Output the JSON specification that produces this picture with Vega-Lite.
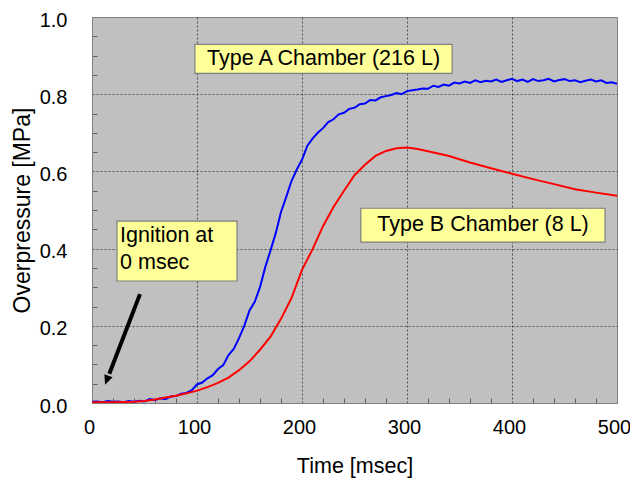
{
  "$schema": "https://vega.github.io/schema/vega-lite/v6.json",
  "width": 525,
  "height": 386,
  "autosize": {"type": "none"},
  "padding": {"left": 92, "top": 17, "right": 13, "bottom": 76},
  "background": "white",
  "config": {
    "view": {"fill": "#C0C0C0", "stroke": "#808080", "strokeWidth": 1},
    "font": "Liberation Sans",
    "axis": {
      "labelFont": "Liberation Sans",
      "labelFontSize": 20,
      "labelColor": "#000000",
      "titleFont": "Liberation Sans",
      "titleFontSize": 21.5,
      "titleFontWeight": "normal",
      "titleColor": "#000000",
      "domainColor": "#808080",
      "tickColor": "#606060",
      "gridColor": "#505050",
      "gridDash": [2, 2],
      "gridWidth": 1
    }
  },
  "datasets": {
    "curves": [
      {"t": 0, "p": 0.003, "s": "A"}, {"t": 5, "p": 0.004, "s": "A"}, {"t": 10, "p": 0.002, "s": "A"}, {"t": 15, "p": 0.005, "s": "A"}, {"t": 20, "p": 0.003, "s": "A"}, {"t": 25, "p": 0.004, "s": "A"}, {"t": 30, "p": 0.002, "s": "A"}, {"t": 35, "p": 0.005, "s": "A"}, {"t": 40, "p": 0.003, "s": "A"}, {"t": 45, "p": 0.006, "s": "A"}, {"t": 50, "p": 0.004, "s": "A"}, {"t": 55, "p": 0.01, "s": "A"}, {"t": 60, "p": 0.008, "s": "A"}, {"t": 65, "p": 0.012, "s": "A"}, {"t": 70, "p": 0.01, "s": "A"}, {"t": 75, "p": 0.017, "s": "A"}, {"t": 80, "p": 0.018, "s": "A"}, {"t": 85, "p": 0.024, "s": "A"}, {"t": 90, "p": 0.026, "s": "A"}, {"t": 95, "p": 0.033, "s": "A"}, {"t": 100, "p": 0.048, "s": "A"}, {"t": 105, "p": 0.053, "s": "A"}, {"t": 110, "p": 0.064, "s": "A"}, {"t": 115, "p": 0.072, "s": "A"}, {"t": 120, "p": 0.088, "s": "A"}, {"t": 125, "p": 0.098, "s": "A"}, {"t": 130, "p": 0.124, "s": "A"}, {"t": 135, "p": 0.14, "s": "A"}, {"t": 140, "p": 0.168, "s": "A"}, {"t": 145, "p": 0.2, "s": "A"}, {"t": 150, "p": 0.24, "s": "A"}, {"t": 155, "p": 0.262, "s": "A"}, {"t": 160, "p": 0.3, "s": "A"}, {"t": 165, "p": 0.352, "s": "A"}, {"t": 170, "p": 0.395, "s": "A"}, {"t": 175, "p": 0.44, "s": "A"}, {"t": 180, "p": 0.495, "s": "A"}, {"t": 185, "p": 0.534, "s": "A"}, {"t": 190, "p": 0.575, "s": "A"}, {"t": 195, "p": 0.605, "s": "A"}, {"t": 200, "p": 0.63, "s": "A"}, {"t": 205, "p": 0.666, "s": "A"}, {"t": 210, "p": 0.685, "s": "A"}, {"t": 215, "p": 0.7, "s": "A"}, {"t": 220, "p": 0.712, "s": "A"}, {"t": 225, "p": 0.728, "s": "A"}, {"t": 230, "p": 0.735, "s": "A"}, {"t": 235, "p": 0.748, "s": "A"}, {"t": 240, "p": 0.752, "s": "A"}, {"t": 245, "p": 0.762, "s": "A"}, {"t": 250, "p": 0.765, "s": "A"}, {"t": 255, "p": 0.774, "s": "A"}, {"t": 260, "p": 0.776, "s": "A"}, {"t": 265, "p": 0.785, "s": "A"}, {"t": 270, "p": 0.784, "s": "A"}, {"t": 275, "p": 0.792, "s": "A"}, {"t": 280, "p": 0.795, "s": "A"}, {"t": 285, "p": 0.798, "s": "A"}, {"t": 290, "p": 0.803, "s": "A"}, {"t": 295, "p": 0.8, "s": "A"}, {"t": 300, "p": 0.808, "s": "A"}, {"t": 305, "p": 0.81, "s": "A"}, {"t": 310, "p": 0.812, "s": "A"}, {"t": 315, "p": 0.815, "s": "A"}, {"t": 320, "p": 0.814, "s": "A"}, {"t": 325, "p": 0.822, "s": "A"}, {"t": 330, "p": 0.819, "s": "A"}, {"t": 335, "p": 0.825, "s": "A"}, {"t": 340, "p": 0.822, "s": "A"}, {"t": 345, "p": 0.83, "s": "A"}, {"t": 350, "p": 0.828, "s": "A"}, {"t": 355, "p": 0.833, "s": "A"}, {"t": 360, "p": 0.829, "s": "A"}, {"t": 365, "p": 0.836, "s": "A"}, {"t": 370, "p": 0.831, "s": "A"}, {"t": 375, "p": 0.835, "s": "A"}, {"t": 380, "p": 0.833, "s": "A"}, {"t": 385, "p": 0.838, "s": "A"}, {"t": 390, "p": 0.832, "s": "A"}, {"t": 395, "p": 0.836, "s": "A"}, {"t": 400, "p": 0.84, "s": "A"}, {"t": 405, "p": 0.834, "s": "A"}, {"t": 410, "p": 0.838, "s": "A"}, {"t": 415, "p": 0.832, "s": "A"}, {"t": 420, "p": 0.839, "s": "A"}, {"t": 425, "p": 0.834, "s": "A"}, {"t": 430, "p": 0.836, "s": "A"}, {"t": 435, "p": 0.84, "s": "A"}, {"t": 440, "p": 0.833, "s": "A"}, {"t": 445, "p": 0.837, "s": "A"}, {"t": 450, "p": 0.839, "s": "A"}, {"t": 455, "p": 0.834, "s": "A"}, {"t": 460, "p": 0.836, "s": "A"}, {"t": 465, "p": 0.831, "s": "A"}, {"t": 470, "p": 0.835, "s": "A"}, {"t": 475, "p": 0.838, "s": "A"}, {"t": 480, "p": 0.833, "s": "A"}, {"t": 485, "p": 0.836, "s": "A"}, {"t": 490, "p": 0.829, "s": "A"}, {"t": 495, "p": 0.831, "s": "A"}, {"t": 500, "p": 0.827, "s": "A"},
      {"t": 0, "p": 0.002, "s": "B"}, {"t": 20, "p": 0.002, "s": "B"}, {"t": 40, "p": 0.003, "s": "B"}, {"t": 50, "p": 0.005, "s": "B"}, {"t": 60, "p": 0.009, "s": "B"}, {"t": 70, "p": 0.014, "s": "B"}, {"t": 80, "p": 0.019, "s": "B"}, {"t": 90, "p": 0.025, "s": "B"}, {"t": 100, "p": 0.032, "s": "B"}, {"t": 110, "p": 0.041, "s": "B"}, {"t": 120, "p": 0.052, "s": "B"}, {"t": 130, "p": 0.066, "s": "B"}, {"t": 140, "p": 0.085, "s": "B"}, {"t": 150, "p": 0.108, "s": "B"}, {"t": 160, "p": 0.138, "s": "B"}, {"t": 170, "p": 0.172, "s": "B"}, {"t": 180, "p": 0.218, "s": "B"}, {"t": 190, "p": 0.272, "s": "B"}, {"t": 200, "p": 0.345, "s": "B"}, {"t": 210, "p": 0.398, "s": "B"}, {"t": 220, "p": 0.458, "s": "B"}, {"t": 230, "p": 0.508, "s": "B"}, {"t": 240, "p": 0.55, "s": "B"}, {"t": 250, "p": 0.59, "s": "B"}, {"t": 260, "p": 0.617, "s": "B"}, {"t": 270, "p": 0.64, "s": "B"}, {"t": 280, "p": 0.653, "s": "B"}, {"t": 290, "p": 0.66, "s": "B"}, {"t": 300, "p": 0.662, "s": "B"}, {"t": 310, "p": 0.658, "s": "B"}, {"t": 320, "p": 0.652, "s": "B"}, {"t": 340, "p": 0.64, "s": "B"}, {"t": 360, "p": 0.623, "s": "B"}, {"t": 380, "p": 0.608, "s": "B"}, {"t": 400, "p": 0.594, "s": "B"}, {"t": 420, "p": 0.58, "s": "B"}, {"t": 440, "p": 0.567, "s": "B"}, {"t": 460, "p": 0.554, "s": "B"}, {"t": 480, "p": 0.545, "s": "B"}, {"t": 500, "p": 0.537, "s": "B"}
    ],
    "boxes": [
      {"x1": 98, "x2": 343, "y1": 0.854, "y2": 0.929},
      {"x1": 256, "x2": 488.6, "y1": 0.417, "y2": 0.5045},
      {"x1": 23.8, "x2": 138.1, "y1": 0.316, "y2": 0.471}
    ],
    "centerLabels": [
      {"x": 220.5, "y": 0.891, "label": "Type A Chamber (216 L)"},
      {"x": 372.4, "y": 0.4605, "label": "Type B Chamber (8 L)"}
    ],
    "leftLabels": [
      {"x": 26.7, "y": 0.432, "label": "Ignition at"},
      {"x": 26.7, "y": 0.362, "label": "0 msec"}
    ],
    "arrow": [
      {"x1": 45.7, "y1": 0.282, "x2": 16.5, "y2": 0.076, "tx": 12.4, "ty": 0.047}
    ]
  },
  "layer": [
    {
      "data": {"name": "curves"},
      "mark": {"type": "line", "strokeWidth": 2, "clip": true},
      "encoding": {
        "x": {
          "field": "t", "type": "quantitative",
          "scale": {"domain": [0, 500], "nice": false, "zero": false},
          "axis": {
            "title": "Time [msec]",
            "values": [0, 20, 40, 60, 80, 100, 120, 140, 160, 180, 200, 220, 240, 260, 280, 300, 320, 340, 360, 380, 400, 420, 440, 460, 480, 500],
            "tickCount": 40,
            "labelExpr": "datum.value % 100 === 0 ? datum.label : ''",
            "labelOverlap": false,
            "tickSize": -5,
            "tickOpacity": {"condition": {"test": "datum.value % 100 === 0", "value": 0}, "value": 1},
            "grid": true,
            "gridOpacity": {"condition": {"test": "datum.value % 100 === 0 && datum.value > 0 && datum.value < 500", "value": 1}, "value": 0},
            "labelPadding": 19,
            "labelOffset": -3,
            "labelFlush": false,
            "titlePadding": 18
          }
        },
        "y": {
          "field": "p", "type": "quantitative",
          "scale": {"domain": [0, 1], "nice": false},
          "axis": {
            "title": "Overpressure [MPa]",
            "titleFontSize": 23,
            "values": [0, 0.05, 0.1, 0.15, 0.2, 0.25, 0.3, 0.35, 0.4, 0.45, 0.5, 0.55, 0.6, 0.65, 0.7, 0.75, 0.8, 0.85, 0.9, 0.95, 1],
            "tickCount": 40,
            "format": ".1f",
            "labelExpr": "abs(datum.value * 5 - round(datum.value * 5)) < 0.001 ? datum.label : ''",
            "labelOverlap": false,
            "tickSize": -5,
            "tickOpacity": {"condition": {"test": "abs(datum.value * 5 - round(datum.value * 5)) < 0.001", "value": 0}, "value": 1},
            "grid": true,
            "gridOpacity": {"condition": {"test": "abs(datum.value * 5 - round(datum.value * 5)) < 0.001 && datum.value > 0.01 && datum.value < 0.99", "value": 1}, "value": 0},
            "labelPadding": 30,
            "labelOffset": 3,
            "labelFlush": false,
            "titlePadding": 5
          }
        },
        "color": {
          "field": "s", "type": "nominal",
          "scale": {"domain": ["A", "B"], "range": ["#0000FF", "#FF0000"]},
          "legend": null
        }
      }
    },
    {
      "data": {"name": "boxes"},
      "mark": {"type": "rect", "fill": "#FFFF99", "stroke": "#808080", "strokeWidth": 1.2},
      "encoding": {
        "x": {"field": "x1", "type": "quantitative"},
        "x2": {"field": "x2"},
        "y": {"field": "y1", "type": "quantitative"},
        "y2": {"field": "y2"}
      }
    },
    {
      "data": {"name": "centerLabels"},
      "mark": {"type": "text", "font": "Liberation Sans", "fontSize": 21.5, "color": "#000000", "align": "center", "baseline": "middle"},
      "encoding": {
        "x": {"field": "x", "type": "quantitative"},
        "y": {"field": "y", "type": "quantitative"},
        "text": {"field": "label"}
      }
    },
    {
      "data": {"name": "leftLabels"},
      "mark": {"type": "text", "font": "Liberation Sans", "fontSize": 21.5, "color": "#000000", "align": "left", "baseline": "middle"},
      "encoding": {
        "x": {"field": "x", "type": "quantitative"},
        "y": {"field": "y", "type": "quantitative"},
        "text": {"field": "label"}
      }
    },
    {
      "data": {"name": "arrow"},
      "mark": {"type": "rule", "color": "#000000", "strokeWidth": 4},
      "encoding": {
        "x": {"field": "x1", "type": "quantitative"},
        "y": {"field": "y1", "type": "quantitative"},
        "x2": {"field": "x2"},
        "y2": {"field": "y2"}
      }
    },
    {
      "data": {"name": "arrow"},
      "mark": {"type": "point", "shape": "M0,0L-0.45,1L0.45,1Z", "filled": true, "color": "#000000", "opacity": 1, "size": 380, "angle": 201},
      "encoding": {
        "x": {"field": "tx", "type": "quantitative"},
        "y": {"field": "ty", "type": "quantitative"}
      }
    }
  ]
}
